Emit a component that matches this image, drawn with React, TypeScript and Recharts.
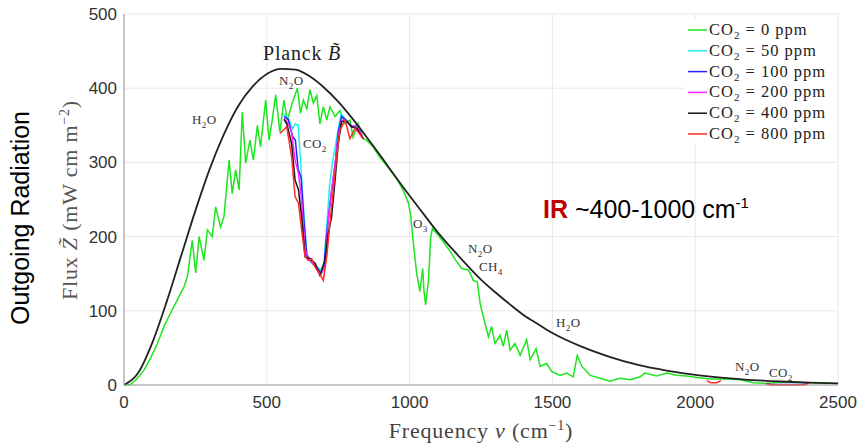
import React from 'react';
import { LineChart, Line, XAxis, YAxis, CartesianGrid } from 'recharts';

// Planck curve B~ (mW cm m^-2)
const planckNu = [0, 50, 100, 150, 200, 250, 300, 350, 400, 450, 500, 550, 600, 650, 700, 750, 800, 850, 900, 950, 1000, 1050, 1100, 1150, 1200, 1250, 1300, 1350, 1400, 1450, 1500, 1600, 1700, 1800, 1900, 2000, 2100, 2200, 2300, 2400, 2500];
const planckFlux = [0, 16.5, 57.8, 113, 174, 235, 291, 338, 376, 402, 419, 426, 425, 416, 401, 382, 359, 334, 308, 281, 255, 230, 205, 183, 162, 142, 125, 109, 94, 82, 70, 52, 38, 27, 19.4, 13.7, 9.6, 6.7, 4.7, 3.2, 2.2];

// CO2 = 0 ppm
const nu0 = [0, 23, 45, 70, 95, 117, 140, 163, 187, 210, 222, 239, 251, 263, 280, 292, 309, 321, 338, 350, 368, 379, 391, 403, 414, 426, 441, 453, 467, 478, 496, 508, 519, 531, 546, 560, 572, 589, 607, 618, 628, 640, 651, 663, 675, 686, 698, 710, 721, 739, 756, 774, 791, 802, 820, 837, 849, 872, 896, 931, 955, 978, 996, 1004, 1013, 1025, 1036, 1046, 1050, 1056, 1066, 1074, 1080, 1095, 1118, 1142, 1165, 1183, 1206, 1223, 1237, 1247, 1258, 1276, 1287, 1299, 1317, 1328, 1340, 1352, 1369, 1387, 1410, 1422, 1443, 1457, 1480, 1498, 1527, 1550, 1573, 1587, 1603, 1632, 1667, 1701, 1737, 1772, 1807, 1824, 1865, 1900, 1935, 1970, 2005, 2052, 2110, 2157, 2204, 2250, 2300, 2400, 2500];
const flux0 = [0, 1, 8, 20, 38, 56, 79, 97, 115, 132, 146, 195, 151, 200, 168, 209, 200, 240, 213, 227, 303, 258, 290, 263, 368, 299, 330, 303, 350, 321, 384, 330, 357, 391, 341, 384, 357, 380, 400, 366, 384, 372, 398, 380, 390, 352, 375, 357, 375, 362, 370, 352, 357, 334, 352, 332, 330, 321, 307, 290, 278, 262, 245, 228, 191, 150, 126, 157, 128, 108, 141, 200, 211, 204, 193, 180, 166, 157, 155, 141, 139, 110, 92, 65, 79, 56, 67, 52, 74, 47, 56, 40, 61, 34, 49, 25, 29, 18, 13, 16, 11, 40, 25, 13, 9, 5, 9, 7, 11, 16, 12, 16, 13, 12, 10, 8, 8, 7, 3, 2, 4, 3, 2];

// CO2 = 50 ppm
const nu50 = [560, 575, 590, 600, 610, 620, 630, 640, 655, 670, 690, 700, 710, 720, 730, 740, 750, 760, 780, 797, 815, 837];
const flux50 = [365, 360, 345, 352, 350, 290, 230, 175, 165, 160, 155, 165, 215, 270, 300, 322, 345, 365, 356, 348, 350, 332];

// CO2 = 100 ppm
const nu100 = [560, 575, 590, 600, 610, 620, 630, 640, 655, 670, 690, 700, 710, 720, 730, 740, 750, 762, 780, 797, 815, 837, null, 2250, 2262, 2380, 2395];
const flux100 = [362, 358, 335, 330, 290, 280, 222, 175, 168, 162, 150, 158, 205, 240, 270, 300, 340, 362, 356, 348, 350, 332, null, 2, 0.6, 0.6, 2.5];

// CO2 = 200 ppm
const nu200 = [560, 575, 587, 599, 611, 622, 634, 651, 669, 686, 704, 715, 727, 739, 750, 762, 780, 797, 815, 837];
const flux200 = [360, 352, 340, 303, 285, 249, 182, 168, 160, 148, 160, 222, 263, 298, 334, 357, 356, 348, 350, 332];

// CO2 = 400 ppm
const nu400 = [560, 570, 587, 599, 611, 622, 634, 651, 669, 686, 704, 715, 727, 739, 750, 762, 780, 797, 815, 837];
const flux400 = [358, 352, 325, 276, 263, 227, 173, 170, 164, 148, 168, 204, 227, 276, 325, 355, 355, 348, 346, 332];

// CO2 = 800 ppm
const nu800 = [546, 570, 587, 599, 611, 622, 634, 645, 657, 669, 680, 698, 710, 721, 733, 744, 756, 774, 791, 809, 826, 837, null, 2040, 2055, 2075, 2090, null, 2250, 2262, 2385, 2398];
const flux800 = [339, 348, 307, 254, 245, 209, 173, 168, 170, 159, 153, 141, 173, 218, 263, 307, 343, 357, 332, 346, 338, 332, null, 6, 3, 3, 6, null, 2, 0.3, 0.3, 2.5];

const xTicks = [0, 500, 1000, 1500, 2000, 2500];
const yTicks = [0, 100, 200, 300, 400, 500];

const zip = (nu: (number | null)[], f: (number | null)[]) =>
  nu.map((n, i) => ({ nu: n === null ? (nu[i - 1] as number) + 1 : n, f: f[i] }));

const series = [
  { name: 'CO2 = 0 ppm', label: '0', color: '#1ee61e', data: zip(nu0, flux0) },
  { name: 'CO2 = 50 ppm', label: '50', color: '#22eeee', data: zip(nu50, flux50) },
  { name: 'CO2 = 100 ppm', label: '100', color: '#2424ff', data: zip(nu100, flux100) },
  { name: 'CO2 = 200 ppm', label: '200', color: '#ff24ff', data: zip(nu200, flux200) },
  { name: 'CO2 = 400 ppm', label: '400', color: '#141414', data: zip(nu400, flux400) },
  { name: 'CO2 = 800 ppm', label: '800', color: '#ff2a2a', data: zip(nu800, flux800) },
];
const planckData = zip(planckNu, planckFlux);

const SERIF = '"Liberation Serif", "Times New Roman", serif';
const SANS = '"Liberation Sans", Arial, sans-serif';
const AXIS = '#9a9a9a';

// chemical formula with a subscript digit
const Chem = ({ x, y, a, sub, b = '', size = 13 }: any) => (
  <text x={x} y={y} fontFamily={SERIF} fontSize={size} fill="#333" letterSpacing={0.4}>
    <tspan>{a}</tspan>
    <tspan dy={size * 0.3} fontSize={size * 0.7}>{sub}</tspan>
    {b ? <tspan dy={-size * 0.3}>{b}</tspan> : null}
  </text>
);

export default function App() {
  return (
    <div style={{ position: 'absolute', left: 0, top: 0, width: 861, height: 443, background: '#fff' }}>
      <LineChart width={861} height={443} margin={{ top: 14, right: 23, bottom: 0, left: 0 }}>
        <CartesianGrid stroke="#e8e8e8" />
        <XAxis
          dataKey="nu"
          type="number"
          domain={[0, 2500]}
          ticks={xTicks}
          allowDataOverflow
          height={58}
          tickLine={false}
          tickSize={4}
          tickMargin={7}
          axisLine={{ stroke: AXIS }}
          tick={{ fontFamily: SANS, fontSize: 17, fill: '#333' }}
        />
        <XAxis
          xAxisId="top"
          dataKey="nu"
          type="number"
          orientation="top"
          domain={[0, 2500]}
          ticks={xTicks}
          height={0}
          mirror
          tickSize={5}
          tickLine={{ stroke: AXIS }}
          axisLine={{ stroke: AXIS }}
          tickFormatter={() => ''}
        />
        <YAxis
          type="number"
          domain={[0, 500]}
          ticks={yTicks}
          width={124}
          tickLine={false}
          tickSize={5}
          tickMargin={2}
          axisLine={{ stroke: AXIS }}
          tick={{ fontFamily: SANS, fontSize: 17, fill: '#333' }}
        />
        <YAxis
          yAxisId="right"
          type="number"
          orientation="right"
          domain={[0, 500]}
          ticks={yTicks}
          width={0}
          mirror
          tickSize={5}
          tickLine={{ stroke: AXIS }}
          axisLine={{ stroke: AXIS }}
          tickFormatter={() => ''}
        />
        {series.map((s) => (
          <Line
            key={s.name}
            data={s.data}
            dataKey="f"
            name={s.name}
            stroke={s.color}
            strokeWidth={1.5}
            dot={false}
            type="linear"
            connectNulls={false}
            isAnimationActive={false}
          />
        ))}
        <Line
          data={planckData}
          dataKey="f"
          name="Planck"
          stroke="#222"
          strokeWidth={1.8}
          dot={false}
          type="monotone"
          isAnimationActive={false}
        />
      </LineChart>

      <svg width={861} height={443} style={{ position: 'absolute', left: 0, top: 0, pointerEvents: 'none' }}>
        {/* legend */}
        <rect x={685} y={19} width={151} height={124} fill="#fff" />
        {series.map((s, i) => {
          const cy = 30 + i * 20.8;
          return (
            <g key={s.name}>
              <line x1={688} x2={707} y1={cy} y2={cy} stroke={s.color} strokeWidth={1.5} />
              <text x={709} y={cy + 5} fontFamily={SERIF} fontSize={16.5} fill="#222" letterSpacing={1}>
                <tspan>CO</tspan>
                <tspan dy={4} fontSize={11}>2</tspan>
                <tspan dy={-4}>{` = ${s.label} ppm`}</tspan>
              </text>
            </g>
          );
        })}

        {/* annotations */}
        <text x={263} y={60} fontFamily={SERIF} fontSize={20} fill="#222" letterSpacing={0.8}>
          Planck <tspan fontStyle="italic">B&#771;</tspan>
        </text>
        <Chem x={192} y={124} a="H" sub="2" b="O" />
        <Chem x={279} y={85} a="N" sub="2" b="O" />
        <Chem x={303} y={148} a="CO" sub="2" />
        <Chem x={413} y={228} a="O" sub="3" />
        <Chem x={468} y={253} a="N" sub="2" b="O" />
        <Chem x={479} y={271} a="CH" sub="4" />
        <Chem x={556} y={327} a="H" sub="2" b="O" />
        <Chem x={735} y={371} a="N" sub="2" b="O" />
        <Chem x={769} y={377} a="CO" sub="2" />

        <text x={543} y={218} fontFamily={SANS} fontSize={25} fill="#000">
          <tspan fill="#c00000" fontWeight="bold">IR</tspan>
          <tspan> ~400-1000 cm</tspan>
          <tspan dy={-10} fontSize={15}>-1</tspan>
        </text>

        {/* axis titles */}
        <text x={481} y={438} textAnchor="middle" fontFamily={SERIF} fontSize={22} fill="#444" letterSpacing={0.8}>
          Frequency <tspan fontStyle="italic">ν</tspan> (cm<tspan dy={-8} fontSize={14}>−1</tspan><tspan dy={8}>)</tspan>
        </text>
        <text
          transform="translate(77,200) rotate(-90)"
          textAnchor="middle"
          fontFamily={SERIF}
          fontSize={22}
          fill="#555"
          letterSpacing={0.8}
        >
          Flux <tspan fontStyle="italic">Z&#771;</tspan> (mW cm m<tspan dy={-8} fontSize={14}>−2</tspan><tspan dy={8}>)</tspan>
        </text>
        <text
          transform="translate(29,218) rotate(-90)"
          textAnchor="middle"
          fontFamily={SANS}
          fontSize={25}
          fill="#000"
        >
          Outgoing Radiation
        </text>
      </svg>
    </div>
  );
}
